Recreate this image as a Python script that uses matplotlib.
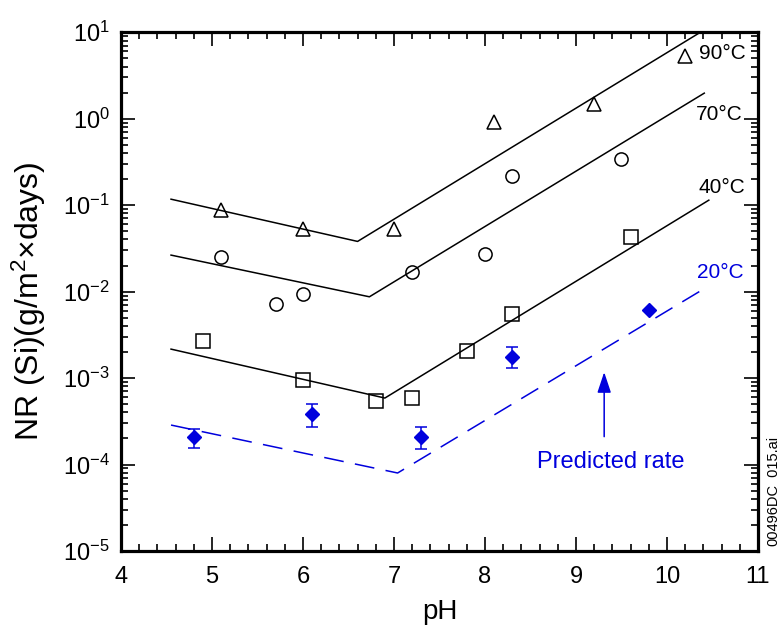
import numpy as np
import matplotlib
matplotlib.use("Agg")
import matplotlib.pyplot as plt
from matplotlib.ticker import LogLocator, MultipleLocator, FuncFormatter, NullFormatter

plt.rcParams["font.family"] = ["Liberation Sans", "DejaVu Sans"]
plt.rcParams["mathtext.default"] = "regular"

# measured points
ph_90 = [5.1, 6.0, 7.0, 8.1, 9.2, 10.2]
nr_90 = [0.087, 0.053, 0.053, 0.91, 1.47, 5.3]

ph_70 = [5.1, 5.7, 6.0, 7.2, 8.0, 8.3, 9.5]
nr_70 = [0.025, 0.0072, 0.0093, 0.0168, 0.027, 0.216, 0.34]

ph_40 = [4.9, 6.0, 6.8, 7.2, 7.8, 8.3, 9.6]
nr_40 = [0.0027, 0.00095, 0.00054, 0.00059, 0.00205, 0.0055, 0.0427]

ph_20 = [4.8, 6.1, 7.3, 8.3, 9.8]
nr_20 = [2.1e-4, 3.85e-4, 2.1e-4, 1.75e-3, 6.1e-3]
err_lo_20 = [1.55e-4, 2.7e-4, 1.5e-4, 1.3e-3, 6.1e-3]
err_hi_20 = [2.6e-4, 5.0e-4, 2.7e-4, 2.3e-3, 6.1e-3]

# fitted rate lines (vertices)
fit_ph_90 = [4.55, 6.6, 10.37]
fit_nr_90 = [0.117, 0.038, 10.0]
fit_ph_70 = [4.55, 6.73, 10.41]
fit_nr_70 = [0.0264, 0.0087, 1.97]
fit_ph_40 = [4.55, 6.9, 10.46]
fit_nr_40 = [0.00216, 0.000587, 0.114]
fit_ph_20 = [4.55, 7.04, 10.44]
fit_nr_20 = [2.86e-4, 7.98e-5, 0.0113]

blue = "#0000dd"

fig = plt.figure(figsize=(7.79, 6.30), dpi=100)
ax = fig.add_axes([0.1553, 0.1254, 0.8177, 0.8236])

for fx, fy in [(fit_ph_90, fit_nr_90), (fit_ph_70, fit_nr_70), (fit_ph_40, fit_nr_40)]:
    ax.plot(fx, fy, color="black", lw=1.1)
ax.plot(fit_ph_20, fit_nr_20, color=blue, lw=1.1, dashes=(13, 7.5))

ax.plot(ph_90, nr_90, ls="none", marker="^", ms=10.5, mfc="none", mec="black", mew=1.1)
ax.plot(ph_70, nr_70, ls="none", marker="o", ms=9.5, mfc="none", mec="black", mew=1.1)
ax.plot(ph_40, nr_40, ls="none", marker="s", ms=9.5, mfc="none", mec="black", mew=1.1)

nr20 = np.array(nr_20)
yerr = [nr20 - np.array(err_lo_20), np.array(err_hi_20) - nr20]
ax.errorbar(ph_20, nr_20, yerr=yerr, fmt="D", ms=7.5, color=blue, mec=blue,
            ecolor=blue, elinewidth=1.1, capsize=4.5, capthick=1.1)

ax.set_xlim(4, 11)
ax.set_yscale("log")
ax.set_ylim(1e-5, 10)

ax.xaxis.set_major_locator(MultipleLocator(1))
ax.xaxis.set_minor_locator(MultipleLocator(0.2))
ax.yaxis.set_major_locator(LogLocator(base=10, numticks=20))
ax.yaxis.set_minor_locator(LogLocator(base=10, subs=np.arange(2, 10), numticks=20))
ax.yaxis.set_minor_formatter(NullFormatter())
ax.yaxis.set_major_formatter(FuncFormatter(lambda v, _: r"$10^{%d}$" % int(round(np.log10(v)))))

ax.tick_params(which="both", direction="in", top=True, right=True, labelsize=17, width=1.2)
ax.tick_params(which="major", length=10, pad=8)
ax.tick_params(axis="x", which="major", pad=11)
ax.tick_params(which="minor", length=5)
for s in ax.spines.values():
    s.set_linewidth(2.3)

ax.set_xlabel("pH", fontsize=20, labelpad=8)
ax.set_ylabel("NR (Si)(g/m$^2$×days)", fontsize=23)
ax.yaxis.set_label_coords(-0.115, 0.482)

ax.text(10.35, 5.6, "90°C", fontsize=15, ha="left", va="center")
ax.text(10.32, 1.13, "70°C", fontsize=15, ha="left", va="center")
ax.text(10.35, 0.161, "40°C", fontsize=15, ha="left", va="center")
ax.text(10.33, 0.0164, "20°C", fontsize=15, ha="left", va="center", color=blue)

ax.annotate("", xy=(9.31, 1.17e-3), xytext=(9.31, 2.1e-4),
            arrowprops=dict(arrowstyle="-|>,head_length=0.9,head_width=0.3",
                            color=blue, lw=1.1, mutation_scale=14, shrinkA=0, shrinkB=0))
ax.text(9.38, 1.07e-4, "Predicted rate", fontsize=17, ha="center", va="center", color=blue)

fig.text(0.991, 0.22, "00496DC_015.ai", fontsize=10.5, rotation=90, ha="center", va="center")

fig.savefig("out.png", dpi=100)
